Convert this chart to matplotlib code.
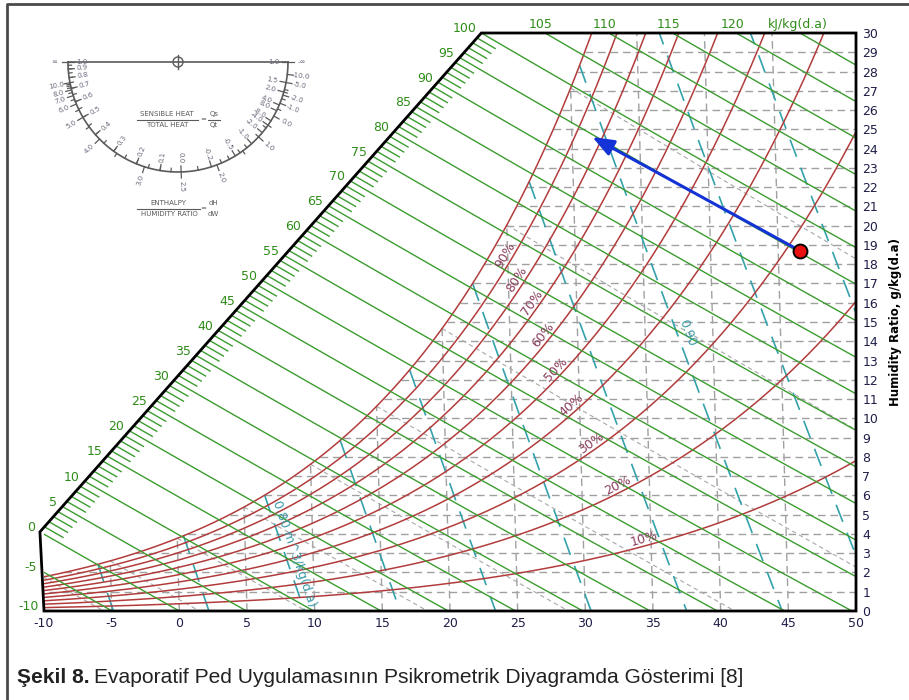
import numpy as np
import matplotlib
matplotlib.use("Agg")
import matplotlib.pyplot as plt
from matplotlib import font_manager
from matplotlib.transforms import Affine2D
from matplotlib.patches import Polygon, Circle

plt.rcParams['font.family'] = ['DejaVu Sans']
plt.rcParams['axes.unicode_minus'] = False

P = 101.325      # kPa
SKEW = 0.04      # dry-bulb lines lean left by this many degC per g/kg

# ---- chart data ----
temp_ticks = list(range(-10, 51, 5))
w_ticks = list(range(0, 31))
rh_levels = [0.1, 0.2, 0.3, 0.4, 0.5, 0.6, 0.7, 0.8, 0.9, 1.0]
rh_names = ['10%', '20%', '30%', '40%', '50%', '60%', '70%', '80%', '90%']
rh_name_w = [3.4, 6.2, 8.4, 10.4, 12.3, 14.1, 15.8, 17.0, 18.3]
h_lines = list(range(-10, 130, 5))
h_diag_labels = list(range(0, 101, 5))
h_left_labels = [-5, -10]
h_top_labels = [105, 110, 115, 120]
h_unit_at = 125
v_lines = [0.76, 0.78, 0.80, 0.82, 0.84, 0.86, 0.88, 0.90, 0.92, 0.94]
wb_lines = [-10, -5, 0, 5, 10, 15, 20, 25, 30]
state_T = [46.6, 31.5]
state_w = [18.7, 24.6]

shr_left = [1.0, 0.9, 0.8, 0.7, 0.6, 0.5, 0.4, 0.3, 0.2, 0.1, 0.0,
            -0.2, -0.5, -1.0, -2.0, -4.0, -8.0]
shr_right = [8.0, 4.0, 2.0, 1.5, 1.0]
dhdw_values = [np.inf, 10.0, 8.0, 7.0, 6.0, 5.0, 4.0, 3.0, 2.5, 2.0, 1.0,
               0.0, -1.0, -2.0, -5.0, -10.0, -np.inf]

caption_bold = 'Şekil 8.'
caption_rest = 'Evaporatif Ped Uygulamasının Psikrometrik Diyagramda Gösterimi [8]'

# ---- colours ----
GREEN = '#3c9c30'
GREEN_T = '#2f8c18'
RED = '#b23c3c'
RED_T = '#8a3d5c'
CYAN = '#33a2aa'
GREY = '#a0a0a0'
NAVY = '#1e1e48'


def p_sat(T):
    T = np.asarray(T, float)
    return 0.61094 * np.exp(17.625 * T / (T + 243.04))


def t_sat(pw):
    a = np.log(pw / 0.61094)
    return 243.04 * a / (17.625 - a)


def w_from_pw(pw):
    return 622.0 * pw / (P - pw)


def pw_from_w(w):
    return w * P / (622.0 + w)


def t_enth(h, w):
    return (h - 2.501 * w) / (1.006 + 0.00186 * w)


def t_vol(v, w):
    return v * P / (0.287042 * (1 + 0.0016078 * w)) - 273.15


def w_wetbulb(twb, T):
    ws = w_from_pw(p_sat(twb)) / 1000
    return 1000 * ((2501 - 2.326 * twb) * ws - 1.006 * (T - twb)) / (2501 + 1.86 * T - 4.186 * twb)


def eff(T, w):
    return T - SKEW * w


fig = plt.figure(figsize=(9.09, 7.0), dpi=100)
ax = fig.add_axes([44 / 909, 1 - 611 / 700, 812 / 909, 578 / 700])
ax.set_xlim(-10, 50)
ax.set_ylim(0, 30)
ax.set_autoscale_on(False)
for s in ax.spines.values():
    s.set_visible(False)
sk = Affine2D(np.array([[1.0, -SKEW, 0], [0, 1, 0], [0, 0, 1]])) + ax.transData

px_T = 812 / 60.0
px_w = 578 / 30.0

# chart outline (enthalpy scale diagonal)
wg = np.linspace(0, 40, 40001)
i0 = np.argmin(np.abs(eff(t_enth(0, wg), wg) + 10.3))
diag_b = (-10.3, wg[i0])
diag_t = (eff(t_enth(100, 30), 30), 30.0)
outline = [(-10, 0), (50, 0), (50, 30), diag_t, diag_b]
clip = Polygon(outline, closed=True, transform=ax.transData)


def edge_eff(w):
    wb0 = diag_b[1]
    return np.where(w < wb0, -10 + (diag_b[0] + 10) * w / wb0,
                    diag_b[0] + (w - wb0) * (diag_t[0] - diag_b[0]) / (30 - wb0))


def h_on_edge(h):
    f = eff(t_enth(h, wg), wg) - edge_eff(wg)
    return wg[np.argmin(np.abs(f))]


def draw(T, w, **kw):
    ln, = ax.plot(T, w, transform=sk, **kw)
    ln.set_clip_path(clip)
    return ln


# dashed grid under the saturation curve
for T in range(-5, 50, 5):
    draw([T, T], [0, w_from_pw(p_sat(T))], color=GREY, lw=1.0, dashes=(5.5, 3.5), zorder=1)
for w in w_ticks[1:-1]:
    draw([t_sat(pw_from_w(w)), 60], [w, w], color=GREY, lw=1.0, dashes=(5.5, 3.5), zorder=1)

# wet bulb lines
for twb in wb_lines:
    T = np.linspace(twb, 60, 200)
    w = w_wetbulb(twb, T)
    m = w >= 0
    draw(T[m], w[m], color='#a8a8a8', lw=0.8, dashes=(4, 3), zorder=1.2)

# specific volume lines
wv = np.linspace(0, 35, 3000)
for v in v_lines:
    Tv = t_vol(v, wv)
    m = Tv >= t_sat(pw_from_w(wv))
    draw(Tv[m][::-1], wv[m][::-1], color=CYAN, lw=1.2, dashes=(11, 7), zorder=1.5)

# relative humidity curves
Tr = np.linspace(-10, 60, 600)
for rh in rh_levels:
    w = w_from_pw(rh * p_sat(Tr))
    m = w < 36
    draw(Tr[m], w[m], color=RED, lw=1.1, zorder=2)

# enthalpy lines
we = np.linspace(0, 36, 50)
for h in h_lines:
    draw(t_enth(h, we), we, color=GREEN, lw=1.0, zorder=2.5)
for h in range(1, 100):
    if h % 5:
        w0 = h_on_edge(h)
        ws_ = np.linspace(w0, w0 - 0.55, 4)
        draw(t_enth(h, ws_), ws_, color=GREEN, lw=1.0, zorder=2.5)

ax.add_patch(Polygon(outline, closed=True, fill=False, edgecolor='black', lw=2.0,
                     transform=ax.transData, clip_on=False, zorder=10, joinstyle='miter'))

# enthalpy labels
for h in h_diag_labels + h_left_labels:
    w0 = h_on_edge(h)
    ax.annotate(str(h), xy=(t_enth(h, w0), w0), xycoords=sk, xytext=(-5, 4),
                textcoords='offset pixels', ha='right', va='center', color=GREEN_T,
                fontsize=9, annotation_clip=False)
for h in h_top_labels:
    ax.annotate(str(h), xy=(t_enth(h, 30), 30), xycoords=sk, xytext=(-4, 2),
                textcoords='offset pixels', ha='center', va='bottom', color=GREEN_T,
                fontsize=9, annotation_clip=False)
ax.annotate('kJ/kg(d.a)', xy=(t_enth(h_unit_at, 30), 30), xycoords=sk, xytext=(-2, 2),
            textcoords='offset pixels', ha='center', va='bottom', color=GREEN_T,
            fontsize=9, annotation_clip=False)


def disp_angle(p1, p2):
    a = sk.transform(p1)
    b = sk.transform(p2)
    return np.degrees(np.arctan2(b[1] - a[1], b[0] - a[0]))


# RH labels
for rh, name, wl in zip(rh_levels, rh_names, rh_name_w):
    T0 = t_sat(pw_from_w(wl) / rh)
    T1 = t_sat(pw_from_w(wl + 0.3) / rh)
    ang = disp_angle((T0, wl), (T1, wl + 0.3))
    r = np.radians(ang)
    ax.annotate(name, xy=(T0, wl), xycoords=sk,
                xytext=(-7 * np.sin(r), 7 * np.cos(r)), textcoords='offset pixels',
                rotation=ang, rotation_mode='anchor', ha='center', va='center',
                color=RED_T, fontsize=9, zorder=6)

# specific volume labels
for v, text, wl in [(0.80, '0.80 m^3/kg(d.a)', 5.6), (0.90, '0.90', 15.0)]:
    p1 = (t_vol(v, wl), wl)
    p2 = (t_vol(v, wl - 1), wl - 1)
    ang = disp_angle(p1, p2)
    ax.annotate(text, xy=p1, xycoords=sk, xytext=(3, 0), textcoords='offset pixels',
                rotation=ang, rotation_mode='anchor', ha='left', va='bottom',
                color='#3a9aa6', fontsize=9, zorder=6)

# process: evaporative pad
ax.annotate('', xy=(state_T[1], state_w[1]), xytext=(state_T[0], state_w[0]),
            xycoords=sk, textcoords=sk,
            arrowprops=dict(arrowstyle='-|>,head_length=0.65,head_width=0.25',
                            color='#1433d6', lw=2.2, mutation_scale=20,
                            shrinkA=0, shrinkB=0), zorder=8)
ax.plot(state_T[0], state_w[0], 'o', ms=10, mfc='#e81010', mec='black', mew=1.4,
        transform=sk, zorder=9, clip_on=False)

# axes
ax.set_xticks(temp_ticks)
ax.set_yticks(w_ticks)
ax.yaxis.tick_right()
ax.yaxis.set_label_position('right')
ax.tick_params(axis='x', length=0, pad=4, labelsize=9, labelcolor=NAVY)
ax.tick_params(axis='y', length=0, pad=4.5, labelsize=9, labelcolor=NAVY)
ax.set_ylabel('Humidity Ratio, g/kg(d.a)', fontweight='bold', fontsize=8.5, labelpad=8)

# ---- overlay: protractor, frame, caption ----
ov = fig.add_axes([0, 0, 1, 1], zorder=5)
ov.set_xlim(0, 909)
ov.set_ylim(700, 0)
ov.axis('off')

ov.plot([6.5, 6.5, 909], [700, 4, 4], color='#4a4a4a', lw=2)

cx, cy, R = 178, 62, 110
PC = '#5a5a5a'
TC = '#6a6a7e'
th = np.linspace(0, np.pi, 200)
ov.plot(cx + R * np.cos(th), cy + R * np.sin(th), color=PC, lw=1.2)
ov.plot([cx - R, cx + R], [cy, cy], color=PC, lw=1.2)
ov.add_patch(Circle((cx, cy), 5, fill=False, ec=PC, lw=1.0))
ov.plot([cx, cx], [cy - 7, cy + 7], color=PC, lw=1.0)


def direction(dT):
    # screen angle (clockwise from +x) of a process with dw = -1 g/kg
    return np.degrees(np.arctan2(px_w, px_T * (dT + SKEW)))


def tick(theta, r0, r1):
    t = np.radians(theta)
    ov.plot([cx + r0 * np.cos(t), cx + r1 * np.cos(t)],
            [cy + r0 * np.sin(t), cy + r1 * np.sin(t)], color=PC, lw=0.9)


def label(theta, r, text):
    t = np.radians(theta)
    rot = 180 - theta if theta > 90 else -theta
    if theta in (0.0, 180.0):
        rot = 0
    ov.text(cx + r * np.cos(t), cy + r * np.sin(t), text, fontsize=5, color=TC,
            rotation=rot, rotation_mode='anchor', ha='center', va='center')


def shr_dT(s, side):
    if s == 1.0:
        return -np.inf if side < 0 else np.inf
    return -2.501 * s / ((1 - s) * 1.006)


with np.errstate(divide='ignore', invalid='ignore'):
    for side, vals in ((-1, shr_left), (1, shr_right)):
        for s in vals:
            a = direction(shr_dT(s, side))
            tick(a, R - 6, R)
            label(a, 96, '%.1f' % s)
    for s in np.arange(0.05, 1.0, 0.05):
        tick(direction(shr_dT(s, -1)), R - 3.5, R)
    for s in [-0.1, -0.3, -0.4, -0.6, -0.8, -1.5, -3.0]:
        tick(direction(shr_dT(s, -1)), R - 3.5, R)
    for q in dhdw_values:
        a = direction((2.501 - q) / 1.006)
        tick(a, R, R + 6)
        txt = '∞' if q == np.inf else ('-∞' if q == -np.inf else '%.1f' % q)
        label(a, 124, txt)
    for q in np.arange(-3.0, 9.6, 0.5):
        if q not in dhdw_values:
            tick(direction((2.501 - q) / 1.006), R, R + 3.5)

# protractor formulas
ov.text(167, 114, 'SENSIBLE HEAT', fontsize=5, color=PC, ha='center', va='center')
ov.text(167, 125, 'TOTAL HEAT', fontsize=5, color=PC, ha='center', va='center')
ov.plot([137, 198], [119.5, 119.5], color=PC, lw=0.8)
ov.text(203, 119.5, '=', fontsize=5, color=PC, ha='center', va='center')
ov.text(214, 114, 'Qs', fontsize=5, color=PC, ha='center', va='center')
ov.text(214, 125, 'Qt', fontsize=5, color=PC, ha='center', va='center')
ov.plot([208, 220], [119.5, 119.5], color=PC, lw=0.8)

ov.text(168, 203, 'ENTHALPY', fontsize=5, color=PC, ha='center', va='center')
ov.text(169, 214, 'HUMIDITY RATIO', fontsize=5, color=PC, ha='center', va='center')
ov.plot([137, 200], [208.5, 208.5], color=PC, lw=0.8)
ov.text(203, 208.5, '=', fontsize=5, color=PC, ha='center', va='center')
ov.text(213, 203, 'dH', fontsize=5, color=PC, ha='center', va='center')
ov.text(213, 214, 'dW', fontsize=5, color=PC, ha='center', va='center')

# caption (narrow face if the system has one)
try:
    font_manager.findfont('Liberation Sans Narrow', fallback_to_default=False)
    cap_font, cap_size = ['Liberation Sans Narrow', 'DejaVu Sans'], 16
except ValueError:
    cap_font, cap_size = ['Liberation Sans', 'DejaVu Sans'], 15.1
t1 = ov.text(17, 683, caption_bold, fontsize=cap_size, fontweight='bold', family=cap_font,
             color='#222222', va='baseline', ha='left')
fig.canvas.draw()
bb = t1.get_window_extent()
x_end = ov.transData.inverted().transform((bb.x1, bb.y0))[0]
ov.text(x_end + 4, 683, caption_rest, fontsize=cap_size, family=cap_font,
        color='#222222', va='baseline', ha='left')

fig.savefig('out.png', dpi=100, facecolor='white')
